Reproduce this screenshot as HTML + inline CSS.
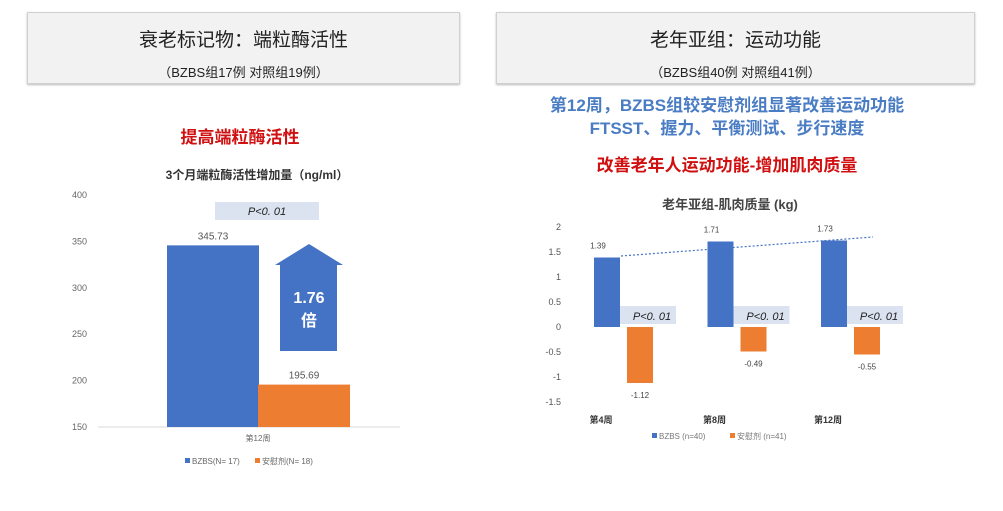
<!DOCTYPE html>
<html><head><meta charset="utf-8"><style>
body{margin:0;width:1003px;height:511px;background:#fff;overflow:hidden;font-family:"Liberation Sans","Noto Sans CJK SC",sans-serif;}
.box{position:absolute;background:#f2f2f2;border:1px solid #d0d0d0;box-shadow:0 1px 2px #bbb;text-align:center;color:#222}
.t{position:absolute;white-space:nowrap;transform:translateX(-50%)}
</style></head><body>
<div class="box" style="left:27px;top:12px;width:431px;height:70px">
<div style="font-size:19px;margin-top:12px">衰老标记物：端粒酶活性</div>
<div style="font-size:13px;margin-top:10px">（BZBS组17例 对照组19例）</div></div>
<div class="box" style="left:496px;top:12px;width:477px;height:70px">
<div style="font-size:19px;margin-top:12px">老年亚组：运动功能</div>
<div style="font-size:13px;margin-top:10px">（BZBS组40例 对照组41例）</div></div>
<div class="t" style="left:727px;top:91px;font-size:17px;font-weight:bold;color:#4a7cc4">第12周，BZBS组较安慰剂组显著改善运动功能</div>
<div class="t" style="left:727px;top:114px;font-size:17px;font-weight:bold;color:#4a7cc4">FTSST、握力、平衡测试、步行速度</div>
<div class="t" style="left:240px;top:123px;font-size:17px;font-weight:bold;color:#d01010">提高端粒酶活性</div>
<div class="t" style="left:727px;top:151px;font-size:17px;font-weight:bold;color:#d01010">改善老年人运动功能-增加肌肉质量</div>
<div class="t" style="left:257px;top:166px;font-size:12px;font-weight:bold;color:#333">3个月端粒酶活性增加量（ng/ml）</div>
<div class="t" style="left:730px;top:194px;font-size:13px;font-weight:bold;color:#444">老年亚组-肌肉质量 (kg)</div>
<svg id="c" width="1003" height="511" style="position:absolute;left:0;top:0"></svg>
<script>
const NS="http://www.w3.org/2000/svg";
const svg=document.getElementById('c');
function mk(t,a,txt){const e=document.createElementNS(NS,t);for(const k in a)e.setAttribute(k,a[k]);if(txt!=null)e.textContent=txt;svg.appendChild(e);return e;}
// left chart data
const leftTicks=[150,200,250,300,350,400];
const leftSeries=["BZBS(N= 17)","安慰剂(N= 18)"];
const leftValues=[345.73,195.69];
const leftCategory="第12周";
const ly=v=>427-(v-150)*232/250;
const colors=["#4472c4","#ed7d31"];
leftTicks.forEach(t=>{const e=mk('text',{x:87,y:ly(t)+3,'text-anchor':'end','font-size':9,fill:'#666'},t);

});
let ax=mk('line',{x1:98,x2:400,y1:427,y2:427,stroke:'#d9d9d9'});


let pb=mk('rect',{x:215,y:202,width:104,height:18,fill:'#dbe3f1'});


mk('text',{x:267,y:215,'text-anchor':'middle','font-size':11,'font-style':'italic',fill:'#222'},'P<0. 01');
leftValues.forEach((v,i)=>{const x=167+i*91;
const r=mk('rect',{x:x,y:ly(v),width:92,height:427-ly(v),fill:colors[i]});


const l=mk('text',{x:x+46,y:ly(v)-6,'text-anchor':'middle','font-size':10,fill:'#555'},v.toFixed(2));

});
let ar=mk('path',{d:'M309 244 L343 265 L337 265 L337 351 L280 351 L280 265 L275 265 Z',fill:'#4472c4'});


mk('text',{x:309,y:303,'text-anchor':'middle','font-size':16,'font-weight':'bold',fill:'#fff'},'1.76');
mk('text',{x:309,y:326,'text-anchor':'middle','font-size':16,'font-weight':'bold',fill:'#fff'},'倍');
mk('text',{x:258,y:441,'text-anchor':'middle','font-size':8,fill:'#666'},leftCategory);
leftSeries.forEach((s,i)=>{const x=185+i*70;
const r=mk('rect',{x:x,y:458,width:5,height:5,fill:colors[i]});


mk('text',{x:x+7,y:464,'font-size':8,fill:'#666'},s);});
// right chart data
const rightTicks=[-1.5,-1,-0.5,0,0.5,1,1.5,2];
const rightCats=["第4周","第8周","第12周"];
const bzbs=[1.39,1.71,1.73];
const placebo=[-1.12,-0.49,-0.55];
const ry=v=>327-v*50;
const gx=i=>594+i*113.5;
rightTicks.forEach(t=>{const e=mk('text',{x:561,y:ry(t)+3,'text-anchor':'end','font-size':9,fill:'#555'},t);

});
let tl=mk('line',{x1:gx(0)+27,y1:ry(1.42),x2:gx(2)+52,y2:ry(1.8),stroke:'#4472c4','stroke-width':1.2,'stroke-dasharray':'2,2'});


rightCats.forEach((c,i)=>{const x=gx(i);
const pr=mk('rect',{x:x+26,y:306,width:56,height:18,fill:'#dbe3f1'});


mk('text',{x:x+58,y:320,'text-anchor':'middle','font-size':11,'font-style':'italic',fill:'#222'},'P<0. 01');
const b=mk('rect',{x:x,y:ry(bzbs[i]),width:26,height:ry(0)-ry(bzbs[i]),fill:colors[0]});


mk('text',{x:x+4,y:ry(bzbs[i])-9,'text-anchor':'middle','font-size':8,fill:'#444'},bzbs[i].toFixed(2));
const o=mk('rect',{x:x+33,y:ry(0),width:26,height:ry(placebo[i])-ry(0),fill:colors[1]});


mk('text',{x:x+46,y:ry(placebo[i])+15,'text-anchor':'middle','font-size':8,fill:'#444'},placebo[i].toFixed(2));
const cl=mk('text',{x:x+7,y:423,'text-anchor':'middle','font-size':9,'font-weight':'bold',fill:'#333'},c);

});
["BZBS (n=40)","安慰剂 (n=41)"].forEach((s,i)=>{const x=652+i*78;
const r=mk('rect',{x:x,y:433,width:5,height:5,fill:colors[i]});


mk('text',{x:x+7,y:439,'font-size':8,fill:'#777'},s);});
</script>
</body></html>
